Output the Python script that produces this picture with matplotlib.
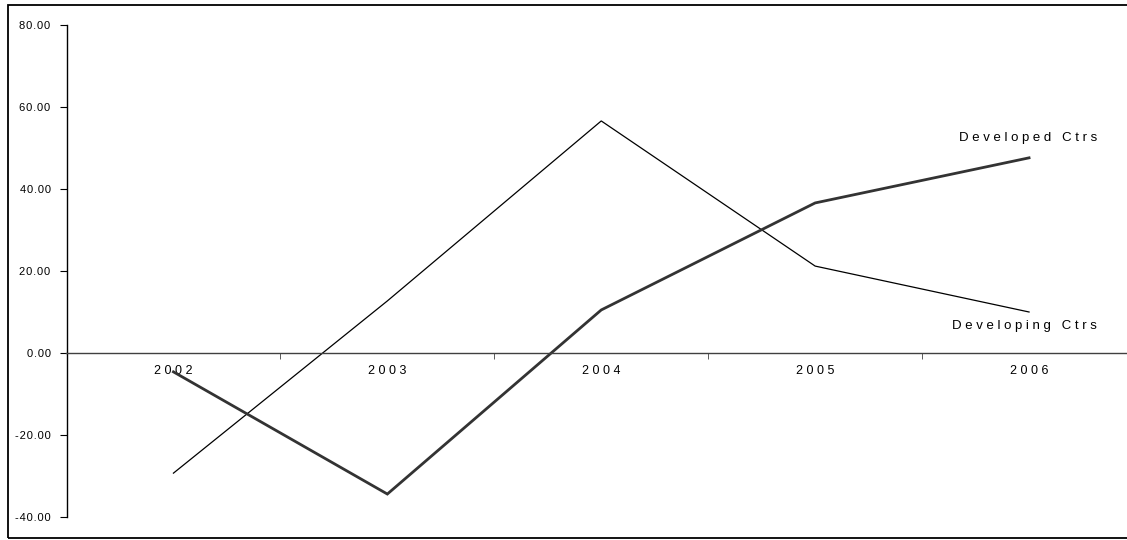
import matplotlib
matplotlib.use("Agg")
import matplotlib.pyplot as plt
from matplotlib.patches import Rectangle
from matplotlib.ticker import FixedLocator

years = ["2002", "2003", "2004", "2005", "2006"]
developed = [-4.6, -34.4, 10.5, 36.6, 47.6]
developing = [-29.3, 12.7, 56.6, 21.2, 10.0]
yticks = [-40, -20, 0, 20, 40, 60, 80]
label_developed = "Developed Ctrs"
label_developing = "Developing Ctrs"

plt.rcParams['font.family'] = ['Liberation Sans', 'DejaVu Sans']


def spaced(s, sep=" "):
    return sep.join(list(s))


fig = plt.figure(figsize=(11.27, 5.4), dpi=100)
ax = fig.add_axes([66.5 / 1127, 23 / 540, 1069.5 / 1127, 492 / 540])

x = list(range(len(years)))
ax.plot(x, developing, color="black", lw=0.9, solid_joinstyle="miter")
ax.plot(x, developed, color="#333333", lw=2.0, solid_joinstyle="miter")

ax.set_xlim(-0.5, len(years) - 0.5)
ax.set_ylim(-40, 80)

for s in ["top", "right"]:
    ax.spines[s].set_visible(False)
ax.spines["bottom"].set_position(("data", 0))
ax.spines["bottom"].set_color("#404040")
ax.spines["bottom"].set_linewidth(1.0)
ax.spines["left"].set_color("black")
ax.spines["left"].set_linewidth(1.0)

ax.set_xticks(x)
ax.set_xticklabels([spaced(y) for y in years], fontsize=9)
ax.tick_params(axis="x", which="major", length=0, pad=9)
ax.xaxis.set_minor_locator(FixedLocator([i + 0.5 for i in range(len(years) - 1)]))
ax.tick_params(axis="x", which="minor", length=4, direction="out", color="#404040")

ax.set_yticks(yticks)
ax.set_yticklabels([spaced(f"{v:.2f}", "\u200a") for v in yticks], fontsize=8)
ax.tick_params(axis="y", length=5, direction="out", pad=6.5)

ax.annotate(spaced(label_developed), xy=(x[-1], developed[-1]),
            xytext=(-1, 14), textcoords="offset points", ha="center", va="center",
            fontsize=9.5)
ax.annotate(spaced(label_developing), xy=(x[-1], developing[-1]),
            xytext=(-3, -10), textcoords="offset points", ha="center", va="center",
            fontsize=9.5)

fig.patches.append(Rectangle((8 / 1127, 2 / 540), 1.2, 533 / 540, transform=fig.transFigure,
                             fill=False, edgecolor="black", lw=1.3))

fig.savefig("out.png", dpi=100)
